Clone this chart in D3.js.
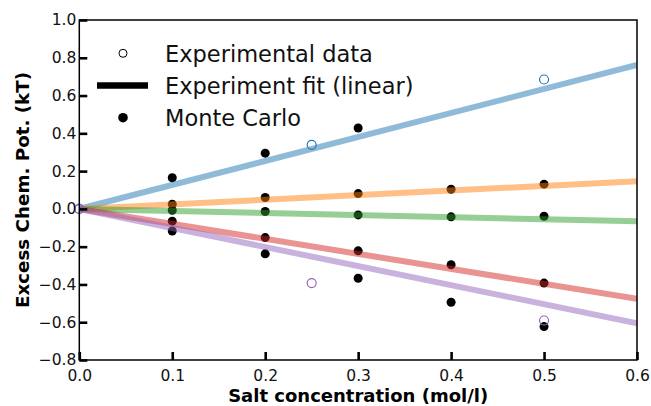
<!DOCTYPE html>
<html>
<head>
<meta charset="utf-8">
<script src="https://cdn.jsdelivr.net/npm/d3@7"></script>
<style>
	body { margin: 0; background: #fff; }
	svg { display: block; font-family: "DejaVu Sans", sans-serif; }
</style>
</head>
<body>
<svg id="chart" width="651" height="406"></svg>
<script>
// values
const mcConc = [0.1, 0.2, 0.3, 0.4, 0.5];
const mcBlue = [0.165, 0.295, 0.428];
const mcOrange = [0.025, 0.06, 0.081, 0.104, 0.131];
const mcGreen = [-0.007, -0.014, -0.032, -0.042, -0.039];
const mcRed = [-0.065, -0.152, -0.222, -0.296, -0.393];
const mcPurple = [-0.117, -0.238, -0.367, -0.494, -0.623];

const expConc = [0, 0.25, 0.5];
const expBlue = [0, 0.339, 0.685];
const expPurple = [0, -0.393, -0.591];

const fitNames = ['blue', 'orange', 'green', 'red', 'purple'];
const fitSlopes = [1.27, 0.243, -0.109, -0.794, -1.009];
const fitColors = ['#1f77b4', '#ff7f0e', '#2ca02c', '#d62728', '#9467bd'];

const xTicks = [0, 0.1, 0.2, 0.3, 0.4, 0.5, 0.6];
const yTicks = [-0.8, -0.6, -0.4, -0.2, 0, 0.2, 0.4, 0.6, 0.8, 1.0];
const legendLabels = ['Experimental data', 'Experiment fit (linear)', 'Monte Carlo'];

const svg = d3.select('#chart');
const plot = { left: 79.3, right: 637, top: 20, bottom: 360 };

const x = d3.scaleLinear().domain([0, 0.6]).range([plot.left, plot.right]);
const y = d3.scaleLinear().domain([-0.8, 1.0]).range([plot.bottom, plot.top]);

svg.append('defs').append('clipPath').attr('id', 'plot-clip')
	.append('rect')
	.attr('x', plot.left).attr('y', plot.top)
	.attr('width', plot.right - plot.left).attr('height', plot.bottom - plot.top);

// Monte Carlo dots sit under the translucent fit lines
const mcSeries = [mcBlue, mcOrange, mcGreen, mcRed, mcPurple];
const mcPoints = mcSeries.flatMap(s => s.map((v, i) => ({ c: mcConc[i], v })));

svg.append('g').selectAll('circle').data(mcPoints).join('circle')
	.attr('cx', d => x(d.c))
	.attr('cy', d => y(d.v))
	.attr('r', 4.5)
	.attr('fill', '#000');

const fits = fitNames.map((n, i) => ({ name: n, slope: fitSlopes[i], color: fitColors[i] }));
svg.append('g').attr('clip-path', 'url(#plot-clip)')
	.selectAll('line').data(fits).join('line')
	.attr('x1', x(0)).attr('y1', y(0))
	.attr('x2', x(0.6)).attr('y2', d => y(d.slope * 0.6))
	.attr('stroke', d => d.color)
	.attr('stroke-opacity', 0.5)
	.attr('stroke-width', 6);

const expPoints = [
	...expBlue.map((v, i) => ({ c: expConc[i], v, color: fitColors[0] })),
	...expPurple.map((v, i) => ({ c: expConc[i], v, color: fitColors[4] }))
];
svg.append('g').selectAll('circle').data(expPoints).join('circle')
	.attr('cx', d => x(d.c))
	.attr('cy', d => y(d.v))
	.attr('r', 4.5)
	.attr('fill', 'none')
	.attr('stroke', d => d.color)
	.attr('stroke-width', 1.2);

// axes, ticks pointing inward
const xAxis = svg.append('g')
	.attr('transform', `translate(0, ${plot.bottom})`)
	.call(d3.axisBottom(x).tickValues(xTicks).tickFormat(d3.format('.1f'))
		.tickSizeInner(-8).tickSizeOuter(0).tickPadding(9.5));

const yAxis = svg.append('g')
	.attr('transform', `translate(${plot.left}, 0)`)
	.call(d3.axisLeft(y).tickValues(yTicks).tickFormat(d3.format('.1f'))
		.tickSizeInner(-8).tickSizeOuter(0).tickPadding(3));

[xAxis, yAxis].forEach(a => {
	a.select('.domain').remove();
	a.selectAll('.tick line').attr('stroke', '#000').attr('stroke-width', 2.6);
	a.selectAll('.tick text').attr('fill', '#111').style('font-size', '15.5px')
		.style('font-family', '"DejaVu Sans", sans-serif');
});

svg.append('rect')
	.attr('x', plot.left).attr('y', plot.top)
	.attr('width', plot.right - plot.left).attr('height', plot.bottom - plot.top)
	.attr('fill', 'none')
	.attr('stroke', '#000')
	.attr('stroke-width', 1.5);

svg.append('text')
	.attr('x', (plot.left + plot.right) / 2)
	.attr('y', 401.5)
	.attr('text-anchor', 'middle')
	.style('font-size', '18px')
	.style('font-weight', 'bold')
	.text('Salt concentration (mol/l)');

svg.append('text')
	.attr('transform', `translate(28.5, ${(plot.top + plot.bottom) / 2}) rotate(-90)`)
	.attr('text-anchor', 'middle')
	.style('font-size', '18.3px')
	.style('font-weight', 'bold')
	.text('Excess Chem. Pot. (kT)');

// legend
const legend = svg.append('g');
const rowY = [53.3, 85.5, 117.7];
legend.append('circle').attr('cx', 123).attr('cy', rowY[0]).attr('r', 4)
	.attr('fill', 'none').attr('stroke', '#000').attr('stroke-width', 1);
legend.append('line').attr('x1', 97).attr('x2', 148).attr('y1', rowY[1]).attr('y2', rowY[1])
	.attr('stroke', '#000').attr('stroke-width', 6.5);
legend.append('circle').attr('cx', 123).attr('cy', rowY[2]).attr('r', 4.8).attr('fill', '#000');

legend.selectAll('text').data(legendLabels).join('text')
	.attr('x', 165)
	.attr('y', (d, i) => rowY[i] + 8.3)
	.style('font-size', '22.5px')
	.attr('fill', '#111')
	.text(d => d);
</script>
</body>
</html>
